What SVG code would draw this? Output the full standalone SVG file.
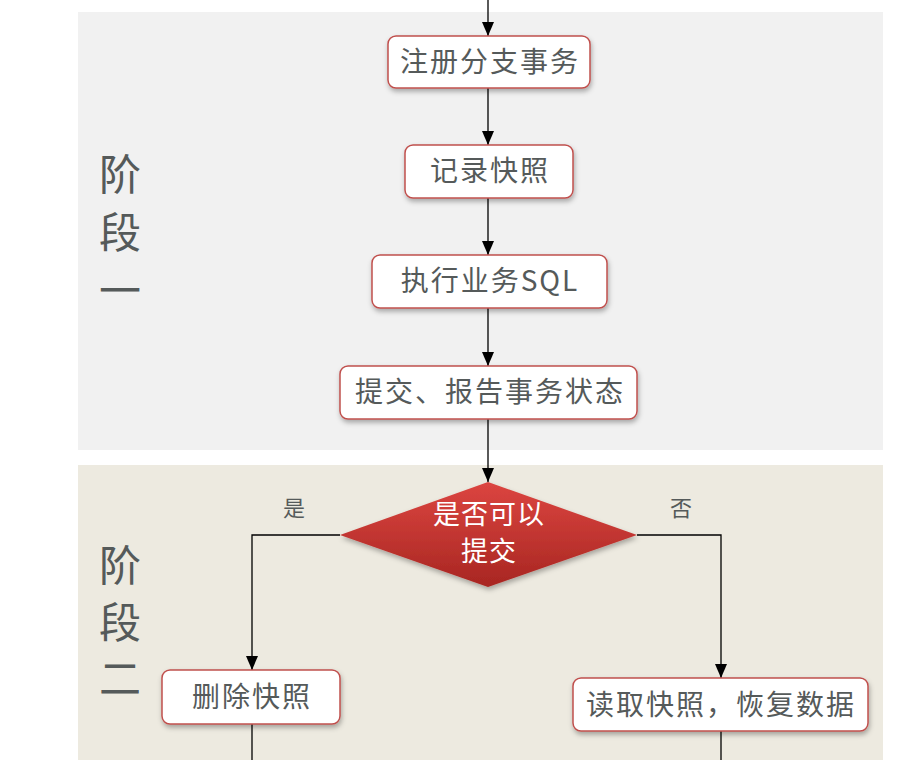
<svg xmlns="http://www.w3.org/2000/svg" width="916" height="781" viewBox="0 0 916 781">
<defs>
<style>
.box{fill:#ffffff;stroke:#c0504d;stroke-width:1.5;filter:url(#sh)}
.t{font-family:"Noto Sans CJK SC","Noto Sans",sans-serif;font-size:28px;letter-spacing:2px;fill:#555a5a;text-anchor:middle}
.big{font-family:"Noto Sans CJK SC",sans-serif;font-size:42px;fill:#555a5a;text-anchor:middle}
.lbl{font-family:"Noto Sans CJK SC",sans-serif;font-size:22px;fill:#555a5a;text-anchor:middle}
.wt{font-family:"Noto Sans CJK SC",sans-serif;font-size:27px;letter-spacing:1px;fill:#ffffff;text-anchor:middle}
.ln{fill:none;stroke:#000;stroke-width:1.3}
</style>
<marker id="ar" viewBox="0 0 14 12" refX="14" refY="6" markerWidth="14" markerHeight="12" markerUnits="userSpaceOnUse" orient="auto">
<path d="M0,0 L14,6 L0,12 Z" fill="#000"/>
</marker>
<filter id="sh" x="-10%" y="-20%" width="120%" height="150%">
<feDropShadow dx="1" dy="3" stdDeviation="2.5" flood-color="#000" flood-opacity="0.3"/>
</filter>
<linearGradient id="rg" x1="0" y1="0" x2="0" y2="1">
<stop offset="0" stop-color="#dc4540"/>
<stop offset="1" stop-color="#a82622"/>
</linearGradient>
</defs>
<rect width="916" height="781" fill="#ffffff"/>
<g id="phase1">
<rect x="78" y="12" width="805" height="438" fill="#f1f1f1"/>
<text class="big" x="120" y="190">阶</text>
<text class="big" x="120" y="248">段</text>
<text class="big" x="120" y="306">一</text>
</g>
<g id="phase2">
<rect x="78" y="465" width="805" height="295" fill="#edeae0"/>
<text class="big" x="120" y="581">阶</text>
<text class="big" x="120" y="638">段</text>
<text class="big" x="120" y="694">二</text>
</g>
<g id="connectors">
<line class="ln" x1="488" y1="0" x2="488" y2="36" marker-end="url(#ar)"/>
<line class="ln" x1="488" y1="88" x2="488" y2="145" marker-end="url(#ar)"/>
<line class="ln" x1="488" y1="198" x2="488" y2="255" marker-end="url(#ar)"/>
<line class="ln" x1="488" y1="308" x2="488" y2="366" marker-end="url(#ar)"/>
<line class="ln" x1="488" y1="419" x2="488" y2="482" marker-end="url(#ar)"/>
<polyline class="ln" points="340,535 252,535 252,670" marker-end="url(#ar)"/>
<polyline class="ln" points="637,535 721,535 721,678" marker-end="url(#ar)"/>
<line class="ln" x1="252" y1="724" x2="252" y2="760"/>
<line class="ln" x1="721" y1="731" x2="721" y2="760"/>
<text class="lbl" x="294" y="516">是</text>
<text class="lbl" x="681" y="516">否</text>
</g>
<g id="n1">
<rect class="box" x="388" y="36" width="202" height="52" rx="8"/>
<text class="t" x="490" y="72">注册分支事务</text>
</g>
<g id="n2">
<rect class="box" x="405" y="145" width="168" height="53" rx="8"/>
<text class="t" x="490" y="181">记录快照</text>
</g>
<g id="n3">
<rect class="box" x="372" y="255" width="235" height="53" rx="8"/>
<text class="t" x="490" y="291">执行业务SQL</text>
</g>
<g id="n4">
<rect class="box" x="340" y="366" width="297" height="53" rx="8"/>
<text class="t" x="490" y="402">提交、报告事务状态</text>
</g>
<g id="decision">
<polygon points="488,482 637,535 488,587 340,535" fill="url(#rg)" filter="url(#sh)"/>
<text class="wt" x="489" y="524">是否可以</text>
<text class="wt" x="489" y="561">提交</text>
</g>
<g id="n5">
<rect class="box" x="162" y="670" width="178" height="54" rx="8"/>
<text class="t" x="252" y="707">删除快照</text>
</g>
<g id="n6">
<rect class="box" x="573" y="678" width="295" height="53" rx="8"/>
<text class="t" x="721" y="715">读取快照，恢复数据</text>
</g>
</svg>
